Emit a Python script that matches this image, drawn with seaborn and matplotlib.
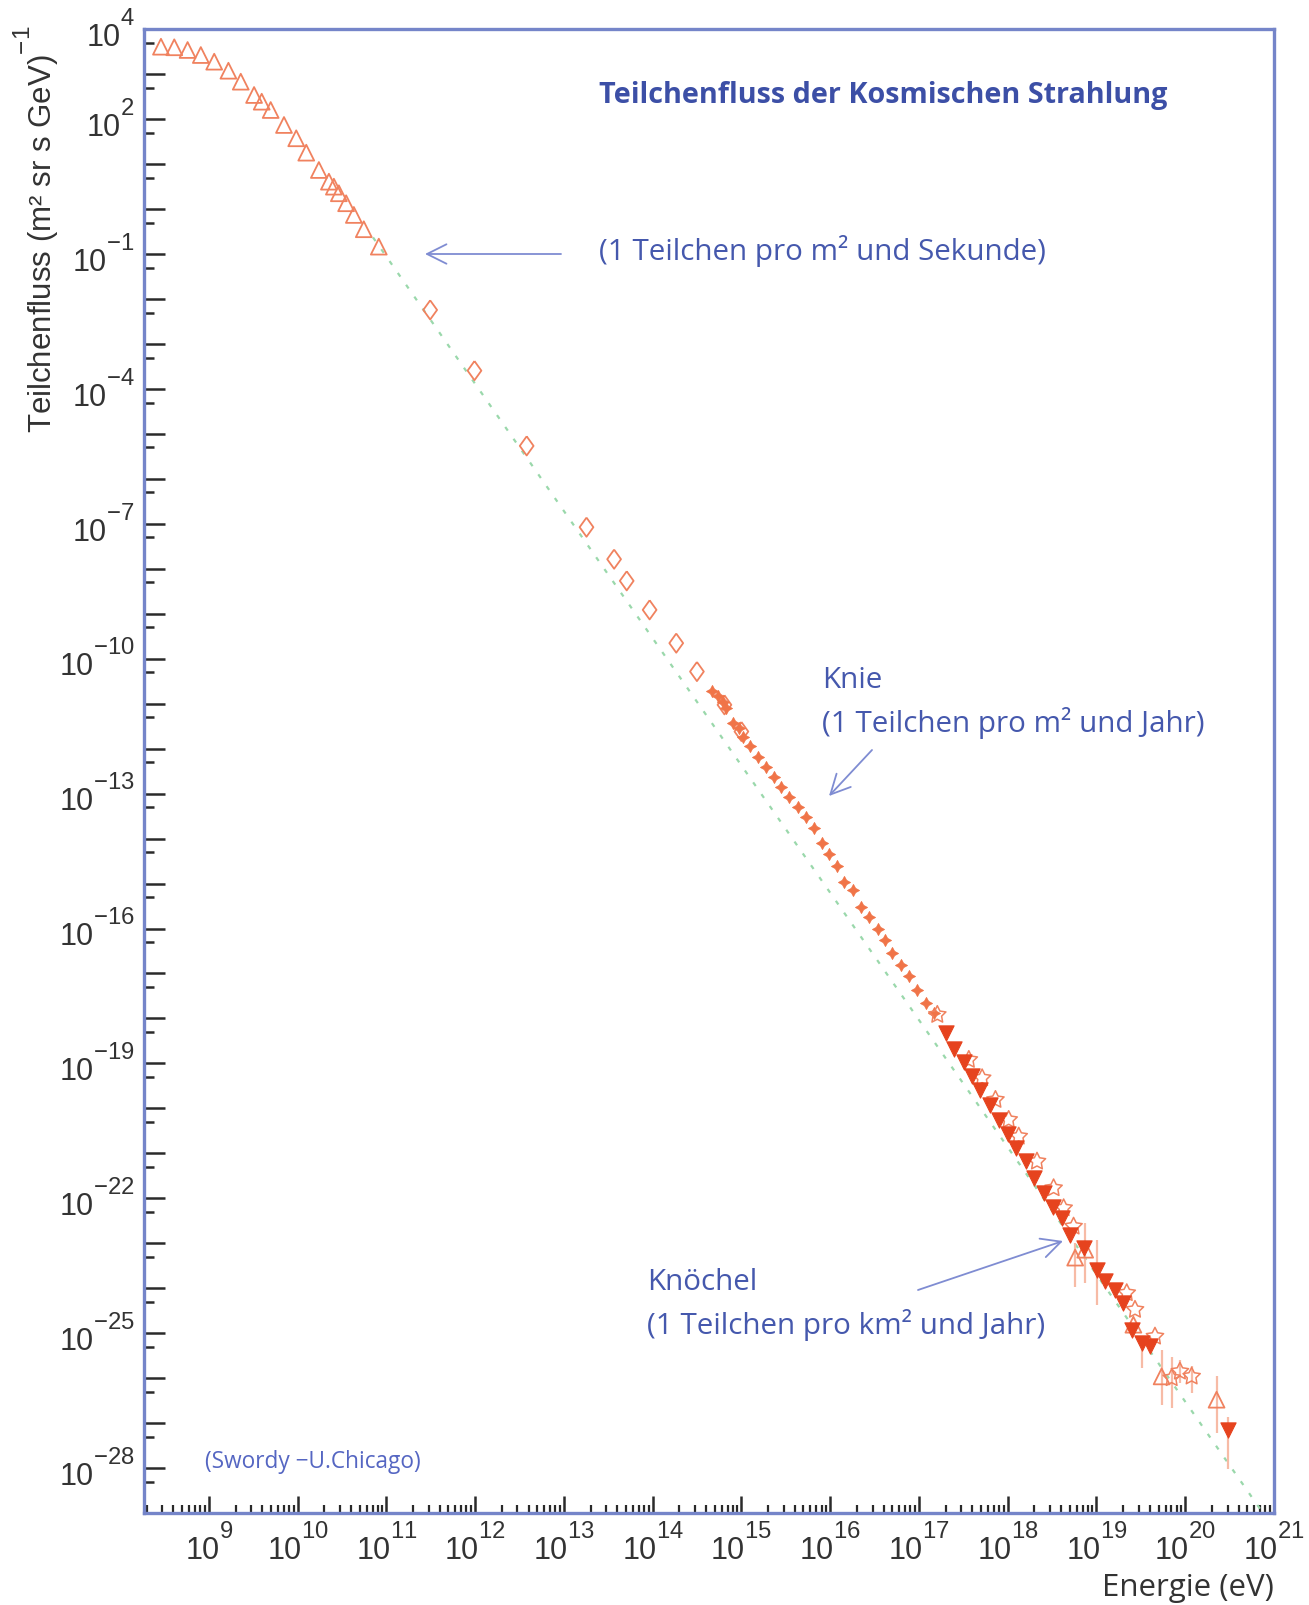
import numpy as np
import matplotlib
matplotlib.use("Agg")
import matplotlib.pyplot as plt
import matplotlib._mathtext as mathtext_internal
import seaborn as sns
from matplotlib.ticker import FixedLocator, FuncFormatter, LogLocator, NullFormatter

# ---- data (log10 of energy in eV, log10 of flux) ----
# direct measurements at low energy (open triangles)
low_logE = [8.461, 8.611, 8.761, 8.910, 9.061, 9.221, 9.360, 9.510, 9.596, 9.697,
            9.847, 9.985, 10.098, 10.240, 10.353, 10.409, 10.465, 10.547, 10.634,
            10.746, 10.915]
low_logF = [3.613, 3.600, 3.540, 3.428, 3.280, 3.079, 2.835, 2.539, 2.390, 2.205,
            1.872, 1.576, 1.256, 0.871, 0.611, 0.500, 0.353, 0.131, -0.129,
            -0.447, -0.834]

# balloon / satellite data (open diamonds)
dia_logE = [11.494, 11.993, 12.581, 13.255, 13.566, 13.708, 13.966, 14.266, 14.499,
            14.809, 15.000]
dia_logF = [-2.242, -3.592, -5.266, -7.074, -7.786, -8.268, -8.913, -9.653, -10.285,
            -11.025, -11.619]

# air-shower data around the knee (small stars)
knee_logE = [14.667, 14.735, 14.791, 14.828, 14.903, 14.978, 15.016, 15.101, 15.191,
             15.278, 15.364, 15.446, 15.539, 15.634, 15.727, 15.813, 15.903, 15.989,
             16.075, 16.157, 16.252, 16.345, 16.438, 16.539, 16.615, 16.701, 16.794,
             16.888, 16.974, 17.075, 17.168]
knee_logF = [-10.707, -10.825, -10.952, -11.099, -11.433, -11.544, -11.730, -11.937,
             -12.175, -12.411, -12.620, -12.842, -13.078, -13.287, -13.523, -13.767,
             -14.088, -14.339, -14.606, -14.955, -15.140, -15.511, -15.733, -16.013,
             -16.251, -16.534, -16.807, -17.052, -17.363, -17.659, -17.881]

# ultra-high-energy data (filled down triangles)
uhe_logE = [17.300, 17.393, 17.506, 17.600, 17.693, 17.806, 17.899, 18.000, 18.098,
            18.210, 18.292, 18.405, 18.510, 18.611, 18.704, 18.854, 19.004, 19.098,
            19.210, 19.303, 19.398, 19.510, 19.603, 20.483]
uhe_logF = [-18.326, -18.682, -18.958, -19.275, -19.587, -19.920, -20.254, -20.565,
            -20.884, -21.181, -21.551, -21.884, -22.196, -22.440, -22.812, -23.107,
            -23.589, -23.849, -24.034, -24.330, -24.923, -25.220, -25.295, -27.147]

# second ultra-high-energy data set (open stars)
star_logE = [17.207, 17.562, 17.712, 17.862, 18.011, 18.124, 18.330, 18.517, 18.630,
             18.742, 19.341, 19.434, 19.659, 19.847, 19.940, 20.072]
star_logF = [-17.918, -18.919, -19.327, -19.809, -20.254, -20.625, -21.181, -21.773,
             -22.218, -22.627, -24.107, -24.478, -25.073, -25.998, -25.852, -25.962]

# third ultra-high-energy data set (open triangles)
hi_logE = [18.760, 18.873, 19.416, 19.734, 20.353]
hi_logF = [-23.320, -23.144, -24.812, -25.962, -26.480]

# error bars at the highest energies
err_logE = [18.760, 18.873, 19.004, 19.510, 19.734, 19.847, 19.940, 20.072, 20.353, 20.483]
err_logLo = [-23.97, -23.88, -24.37, -25.78, -26.60, -26.66, -26.11, -26.33, -27.22, -28.02]
err_logHi = [-23.00, -22.54, -22.92, -25.15, -25.37, -25.52, -25.59, -25.74, -25.96, -26.86]

# E^-2.83 reference power law
ref_logE = [10.85, 20.875]
ref_logF = [-0.629, -29.0]

x_tick_exp = list(range(9, 22))
y_label_exp = [4, 2, -1, -4, -7, -10, -13, -16, -19, -22, -25, -28]

# ---- style ----
sns.set_theme(style="white")
plt.rcParams["font.family"] = ["Liberation Sans", "DejaVu Sans"]
plt.rcParams["mathtext.fontset"] = "custom"
plt.rcParams["mathtext.rm"] = "Liberation Sans"
plt.rcParams["mathtext.it"] = "Liberation Sans:italic"
plt.rcParams["mathtext.bf"] = "Liberation Sans:bold"
# larger exponents, raised above the base, as in classic log-axis labels
mathtext_internal.SHRINK_FACTOR = 0.78
mathtext_internal.FontConstantsBase.sup1 = 1.25

W, H = 1309, 1605
fig = plt.figure(figsize=(W / 100, H / 100), dpi=100)
fig.patch.set_facecolor("white")
ax = fig.add_axes([144 / W, 1 - 1513 / H, (1274 - 144) / W, (1513 - 29.3) / H])
ax.set_facecolor("white")
ax.set_xscale("log")
ax.set_yscale("log")

open_col = "#f0825f"
fill_col = "#e6431e"
knee_col = "#f07448"
err_col = "#f7bba6"
blue_txt = "#3c4fa6"
note_col = "#4558ad"
spine_col = "#7585c9"

def p10(v):
    return np.power(10.0, np.asarray(v, dtype=float))

# reference line
sns.lineplot(x=p10(ref_logE), y=p10(ref_logF), ax=ax, color="#9ad8ab", lw=1.6,
             linestyle=(0, (2.0, 4.5)), zorder=1, sort=False)

# error bars
ax.vlines(p10(err_logE), p10(err_logLo), p10(err_logHi), color=err_col, lw=1.6, zorder=2)

diamond = [(0, 1), (0.72, 0), (0, -1), (-0.72, 0), (0, 1)]

sns.scatterplot(x=p10(low_logE), y=p10(low_logF), ax=ax, marker="^", s=130,
                color=open_col, facecolors="none", edgecolor=open_col, linewidth=1.3, zorder=3)
sns.scatterplot(x=p10(dia_logE), y=p10(dia_logF), ax=ax, marker=diamond, s=190,
                color=open_col, facecolors="none", edgecolor=open_col, linewidth=1.3, zorder=3)
sns.scatterplot(x=p10(knee_logE), y=p10(knee_logF), ax=ax, marker=(4, 1, 0), s=75,
                color=knee_col, edgecolor=knee_col, linewidth=0.6, zorder=3)
sns.scatterplot(x=p10(star_logE), y=p10(star_logF), ax=ax, marker=(5, 1, 0), s=170,
                color=open_col, facecolors="none", edgecolor=open_col, linewidth=1.1, zorder=3)
sns.scatterplot(x=p10(hi_logE), y=p10(hi_logF), ax=ax, marker="^", s=130,
                color=open_col, facecolors="none", edgecolor=open_col, linewidth=1.3, zorder=3)
sns.scatterplot(x=p10(uhe_logE), y=p10(uhe_logF), ax=ax, marker="v", s=120,
                color=fill_col, edgecolor=fill_col, linewidth=0.8, zorder=4)

ax.set_xlim(10 ** 8.27, 1e21)
ax.set_ylim(1e-29, 1e4)

# ---- axes, ticks ----
for s in ax.spines.values():
    s.set_color(spine_col)
    s.set_linewidth(2.4)
    s.set_visible(True)

def exp_label(allowed):
    def fmt(v, pos):
        e = int(round(np.log10(v)))
        return (r"$\mathregular{10^{%d}}$" % e) if e in allowed else ""
    return FuncFormatter(fmt)

ax.xaxis.set_major_locator(FixedLocator(p10(range(8, 22))))
ax.xaxis.set_minor_locator(LogLocator(base=10, subs=np.arange(2, 10), numticks=100))
ax.xaxis.set_major_formatter(exp_label(x_tick_exp))
ax.xaxis.set_minor_formatter(NullFormatter())

ax.yaxis.set_major_locator(FixedLocator(p10(range(-29, 5))))
ax.yaxis.set_minor_locator(FixedLocator(0.5 * p10(range(-28, 5))))
ax.yaxis.set_major_formatter(exp_label(y_label_exp))
ax.yaxis.set_minor_formatter(NullFormatter())

ax.tick_params(axis="both", which="both", direction="in", colors="#2a2a2a",
               bottom=True, left=True, top=False, right=False)
ax.tick_params(axis="x", which="major", length=12, width=1.8, pad=8, labelsize=22)
ax.tick_params(axis="x", which="minor", length=5.5, width=1.6)
ax.tick_params(axis="y", which="major", length=15, width=1.8, pad=7, labelsize=22)
ax.tick_params(axis="y", which="minor", length=7, width=1.8)
for lab in ax.get_xticklabels() + ax.get_yticklabels():
    lab.set_color("#333333")
ax.grid(False)

# ---- labels ----
fig.text(36 / W, 1 - 229 / H, r"Teilchenfluss (m² sr s GeV)$^{\mathregular{-1}}$",
         rotation=90, ha="center", va="center", fontsize=22.5, color="#333333",
         family="Liberation Sans")
fig.text(1274 / W, 1 - 1588 / H, "Energie (eV)", ha="right", va="center",
         fontsize=22.5, color="#333333", family="Open Sans")

def ftext(x, y, s, **kw):
    fig.text(x / W, 1 - y / H, s, ha="left", va="center", family="Open Sans", **kw)

ftext(599, 95, "Teilchenfluss der Kosmischen Strahlung", fontsize=20.7,
      fontweight="bold", color=blue_txt)
ftext(599, 251, "(1 Teilchen pro m² und Sekunde)", fontsize=21.3, color=note_col)
ftext(822, 681, "Knie", fontsize=21.3, color=note_col)
ftext(822, 723, "(1 Teilchen pro m² und Jahr)", fontsize=21.3, color=note_col)
ftext(647, 1282, "Knöchel", fontsize=21.3, color=note_col)
ftext(647, 1325, "(1 Teilchen pro km² und Jahr)", fontsize=21.3, color=note_col)
ftext(205, 1462, "(Swordy \u2212U.Chicago)", fontsize=16.3, color="#5566c2")

def arrow(x0, y0, x1, y1):
    ax.annotate("", xy=(x1 / W, 1 - y1 / H), xycoords="figure fraction",
                xytext=(x0 / W, 1 - y0 / H), textcoords="figure fraction",
                arrowprops=dict(arrowstyle="->,head_length=0.7,head_width=0.35",
                                color="#7f8cd2", lw=1.3, shrinkA=0, shrinkB=0,
                                mutation_scale=20))

arrow(561, 254, 425, 254)
arrow(872, 750, 829, 796)
arrow(918, 1290, 1063, 1241)

fig.savefig("out.png", dpi=100, facecolor="white")
